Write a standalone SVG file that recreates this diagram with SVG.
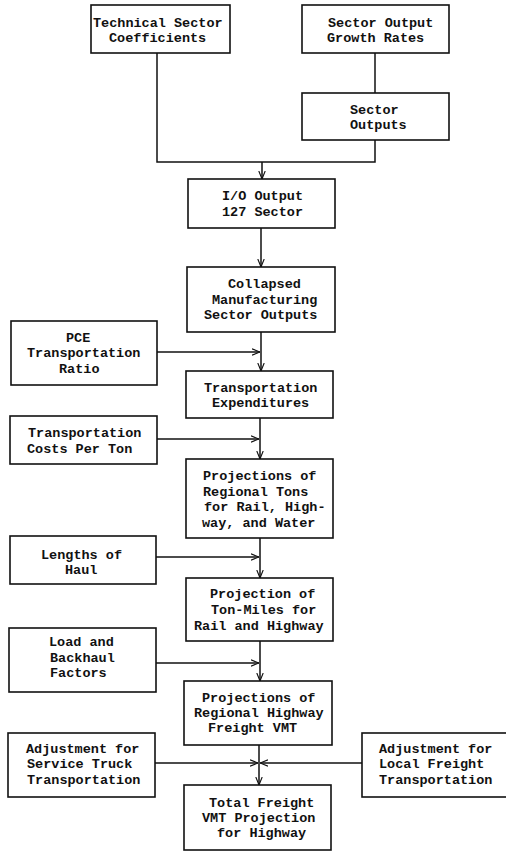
<svg xmlns="http://www.w3.org/2000/svg" width="506" height="852" viewBox="0 0 506 852">
<style>
  .box { fill: #ffffff; stroke: #111; stroke-width: 1.6; }
  .t { font-family: "Liberation Mono", "DejaVu Sans Mono", monospace; font-size: 13.5px; font-weight: bold; fill: #111; }
  .c { fill: none; stroke: #111; stroke-width: 1.5; }
</style>
<defs>
  <marker id="arr" viewBox="0 0 10 10" refX="10" refY="5" markerWidth="8" markerHeight="8" markerUnits="userSpaceOnUse" orient="auto">
    <path d="M0,1 L10,5 L0,9" fill="none" stroke="#111" stroke-width="1.4"/>
  </marker>
</defs>
<rect width="506" height="852" fill="#ffffff"/>

<g id="connectors">
  <polyline class="c" points="157,53 157,162 375,162 375,140"/>
  <line class="c" x1="375" y1="53" x2="375" y2="93"/>
  <line class="c" x1="262" y1="162" x2="262" y2="179" marker-end="url(#arr)"/>
  <line class="c" x1="261" y1="228" x2="261" y2="267" marker-end="url(#arr)"/>
  <line class="c" x1="261" y1="332" x2="261" y2="371" marker-end="url(#arr)"/>
  <line class="c" x1="157" y1="352" x2="260" y2="352" marker-end="url(#arr)"/>
  <line class="c" x1="260" y1="418" x2="260" y2="459" marker-end="url(#arr)"/>
  <line class="c" x1="157" y1="439" x2="259" y2="439" marker-end="url(#arr)"/>
  <line class="c" x1="260" y1="538" x2="260" y2="578" marker-end="url(#arr)"/>
  <line class="c" x1="156" y1="557" x2="259" y2="557" marker-end="url(#arr)"/>
  <line class="c" x1="260" y1="641" x2="260" y2="681" marker-end="url(#arr)"/>
  <line class="c" x1="156" y1="663" x2="259" y2="663" marker-end="url(#arr)"/>
  <line class="c" x1="259" y1="745" x2="259" y2="785" marker-end="url(#arr)"/>
  <line class="c" x1="155" y1="763" x2="258" y2="763" marker-end="url(#arr)"/>
  <line class="c" x1="362" y1="763" x2="260" y2="763" marker-end="url(#arr)"/>
</g>

<g id="technical">
  <rect class="box" x="91" y="5" width="139" height="48"/>
  <text class="t" x="93" y="27">Technical Sector</text>
  <text class="t" x="109" y="42">Coefficients</text>
</g>
<g id="growth">
  <rect class="box" x="302" y="5" width="147" height="48"/>
  <text class="t" x="328" y="27">Sector Output</text>
  <text class="t" x="327" y="42">Growth Rates</text>
</g>
<g id="sector-outputs">
  <rect class="box" x="302" y="93" width="147" height="47"/>
  <text class="t" x="350" y="114">Sector</text>
  <text class="t" x="350" y="129">Outputs</text>
</g>
<g id="io-output">
  <rect class="box" x="188" y="179" width="147" height="49"/>
  <text class="t" x="222" y="200">I/O Output</text>
  <text class="t" x="222" y="216">127 Sector</text>
</g>
<g id="collapsed">
  <rect class="box" x="187" y="267" width="148" height="65"/>
  <text class="t" x="228" y="288">Collapsed</text>
  <text class="t" x="212" y="304">Manufacturing</text>
  <text class="t" x="204" y="319">Sector Outputs</text>
</g>
<g id="pce">
  <rect class="box" x="11" y="321" width="146" height="64"/>
  <text class="t" x="66" y="342">PCE</text>
  <text class="t" x="27" y="357">Transportation</text>
  <text class="t" x="59" y="373">Ratio</text>
</g>
<g id="expenditures">
  <rect class="box" x="186" y="371" width="147" height="47"/>
  <text class="t" x="204" y="392">Transportation</text>
  <text class="t" x="212" y="407">Expenditures</text>
</g>
<g id="costs">
  <rect class="box" x="10" y="416" width="147" height="48"/>
  <text class="t" x="28" y="437">Transportation</text>
  <text class="t" x="27" y="453">Costs Per Ton</text>
</g>
<g id="tons">
  <rect class="box" x="186" y="459" width="147" height="79"/>
  <text class="t" x="203" y="480">Projections of</text>
  <text class="t" x="203" y="496">Regional Tons</text>
  <text class="t" x="204" y="511">for Rail, High-</text>
  <text class="t" x="202" y="527">way, and Water</text>
</g>
<g id="haul">
  <rect class="box" x="10" y="536" width="146" height="48"/>
  <text class="t" x="41" y="559">Lengths of</text>
  <text class="t" x="65" y="574">Haul</text>
</g>
<g id="ton-miles">
  <rect class="box" x="186" y="578" width="147" height="63"/>
  <text class="t" x="210" y="598">Projection of</text>
  <text class="t" x="211" y="614">Ton-Miles for</text>
  <text class="t" x="194" y="630">Rail and Highway</text>
</g>
<g id="load">
  <rect class="box" x="9" y="628" width="147" height="64"/>
  <text class="t" x="49" y="646">Load and</text>
  <text class="t" x="50" y="662">Backhaul</text>
  <text class="t" x="50" y="677">Factors</text>
</g>
<g id="highway-vmt">
  <rect class="box" x="184" y="681" width="148" height="64"/>
  <text class="t" x="202" y="702">Projections of</text>
  <text class="t" x="194" y="717">Regional Highway</text>
  <text class="t" x="208" y="732">Freight VMT</text>
</g>
<g id="service-truck">
  <rect class="box" x="8" y="733" width="147" height="64"/>
  <text class="t" x="26" y="753">Adjustment for</text>
  <text class="t" x="27" y="768">Service Truck</text>
  <text class="t" x="27" y="784">Transportation</text>
</g>
<g id="local-freight">
  <rect class="box" x="362" y="733" width="150" height="64"/>
  <text class="t" x="379" y="753">Adjustment for</text>
  <text class="t" x="379" y="768">Local Freight</text>
  <text class="t" x="379" y="784">Transportation</text>
</g>
<g id="total">
  <rect class="box" x="184" y="785" width="147" height="65"/>
  <text class="t" x="209" y="807">Total Freight</text>
  <text class="t" x="202" y="822">VMT Projection</text>
  <text class="t" x="217" y="837">for Highway</text>
</g>
</svg>
